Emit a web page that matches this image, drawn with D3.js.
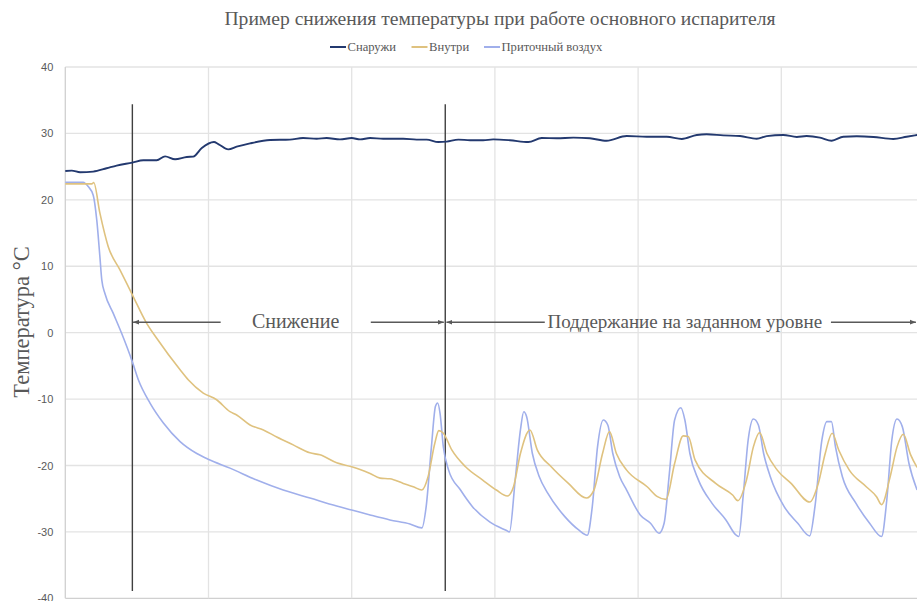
<!DOCTYPE html>
<html>
<head>
<meta charset="utf-8">
<script src="https://cdn.jsdelivr.net/npm/d3@7"></script>
<style>
  body { margin: 0; background: #fff; }
  svg { display: block; }
</style>
</head>
<body>
<svg id="chart" width="917" height="601"></svg>
<script>
// time in minutes (gridline every 60), temperature in °C
var outsideTime = [0, 2.7, 6.2, 11.7, 17.3, 21.5, 28.1, 32.7, 38.3, 41.8, 46.0, 50.9, 53.6, 57.2, 62.3, 64.1, 68.3, 71.8, 77.4, 85.8,
  94.1, 99.6, 105.3, 109.5, 115.1, 120.0, 123.5, 127.7, 133.2, 141.6, 147.2, 151.4, 156.3, 159.8, 164.7, 169.6, 175.1, 179.3, 186.3,
  194.0, 199.6, 205.9, 212.9, 219.8, 226.8, 235.2, 243.6, 252.0, 258.3, 264.6, 268.7, 275.7, 282.7, 289.7, 293.9, 300.8, 306.5,
  310.6, 316.2, 321.1, 326.0, 331.6, 338.6, 346.9, 352.5, 356.9];
var outsideTemp = [24.35, 24.4, 24.15, 24.25, 24.75, 25.15, 25.6, 25.95, 25.95, 26.55, 26.1, 26.45, 26.5, 27.8, 28.7, 28.4, 27.6, 28.0, 28.5, 29.0,
  29.07, 29.3, 29.2, 29.3, 29.1, 29.3, 29.1, 29.3, 29.2, 29.2, 29.07, 29.07, 28.7, 28.77, 29.07, 28.97, 28.97, 29.1, 28.97,
  28.7, 29.3, 29.27, 29.37, 29.27, 28.9, 29.6, 29.5, 29.5, 29.17, 29.77, 29.87, 29.7, 29.6, 29.2, 29.6, 29.77, 29.47,
  29.6, 29.37, 28.9, 29.5, 29.57, 29.47, 29.17, 29.5, 29.77];

var insideTime = [0, 11.1, 11.9, 14.5, 18.0, 22.9, 28.1, 34.1, 38.3, 48.1, 51.5, 57.8, 63.4, 69.0, 71.8, 77.4, 83.0, 88.6, 95.5,
  102.5, 106.7, 113.7, 120.0, 123.5, 127.7, 131.9, 136.0, 141.6, 145.8, 149.4, 152.0, 154.8, 156.5, 158.4, 162.0, 167.7, 174.9,
  180.6, 185.2, 187.8, 190.7, 194.7, 197.8, 203.6, 210.8, 218.3, 221.5, 225.1, 228.0, 230.9, 235.2, 243.8, 248.1, 251.7, 255.3,
  258.9, 261.0, 263.9, 272.5, 279.6, 281.8, 285.4, 288.3, 290.9, 294.0, 298.3, 304.1, 311.9, 315.5, 318.4, 321.3, 324.1, 328.5,
  335.6, 339.9, 342.0, 345.6, 348.5, 351.1, 354.2, 356.9];
var insideTemp = [22.4, 22.4, 22.6, 18.0, 12.95, 9.45, 5.7, 1.4, -0.85, -5.6, -7.1, -9.1, -10.1, -11.9, -12.4, -13.9, -14.65, -15.7, -16.9,
  -18.1, -18.4, -19.6, -20.2, -20.6, -21.2, -21.9, -22.0, -22.7, -23.2, -23.7, -21.7, -16.7, -14.75, -15.15, -17.7, -20.2, -22.2,
  -23.7, -24.6, -23.2, -18.2, -14.65, -17.7, -20.2, -22.7, -24.9, -23.7, -18.2, -14.9, -18.2, -20.7, -23.2, -24.7, -25.1, -19.7,
  -15.55, -15.65, -19.2, -22.7, -24.45, -25.3, -22.2, -17.2, -15.06, -18.2, -20.7, -22.7, -25.5, -22.7, -18.2, -15.15, -17.7, -20.7,
  -23.2, -24.7, -25.9, -21.7, -17.2, -15.3, -18.4, -20.3];

var supplyTime = [0, 7.5, 9.6, 11.7, 13.2, 14.5, 15.3, 16.6, 20.1, 23.6, 28.1, 30.6, 35.5, 41.1, 48.1, 55.1, 60.1, 69.0, 80.2,
  91.3, 102.5, 113.7, 120.0, 127.7, 136.0, 144.4, 149.4, 151.2, 153.4, 155.1, 156.0, 157.0, 158.4, 160.6, 165.6, 170.6, 177.8,
  184.9, 186.1, 188.5, 190.7, 192.1, 193.3, 195.7, 198.6, 202.2, 209.3, 215.1, 218.7, 220.8, 223.0, 225.4, 227.3, 229.4, 232.3,
  235.2, 240.9, 245.2, 248.8, 250.9, 253.1, 255.3, 257.9, 259.6, 261.7, 265.3, 271.0, 276.8, 281.1, 282.2, 284.0, 286.1, 288.3,
  290.4, 292.6, 295.4, 301.2, 306.9, 311.9, 314.1, 317.0, 319.1, 321.0, 322.7, 325.6, 331.3, 337.0, 342.0, 344.2, 346.3, 348.5,
  350.7, 353.5, 356.9];
var supplyTemp = [22.65, 22.65, 22.0, 20.7, 16.9, 11.4, 7.9, 5.9, 2.9, -0.1, -4.4, -7.1, -10.6, -13.6, -16.4, -18.2, -19.1, -20.4, -22.2,
  -23.7, -24.9, -26.1, -26.7, -27.45, -28.2, -28.8, -29.4, -26.2, -17.2, -11.1, -10.6, -12.1, -17.2, -20.7, -23.7, -26.2, -28.5,
  -29.8, -30.0, -22.2, -14.65, -11.9, -12.65, -18.2, -21.7, -24.2, -27.7, -29.7, -30.5, -26.2, -17.2, -13.15, -13.9, -18.2, -21.7,
  -23.7, -27.45, -28.7, -30.2, -28.7, -21.2, -13.15, -11.3, -13.15, -18.2, -22.2, -25.7, -28.2, -30.5, -30.7, -24.7, -16.2, -13.0,
  -13.9, -18.2, -21.7, -26.2, -28.7, -30.6, -26.2, -16.2, -13.4, -13.4, -17.2, -21.7, -25.7, -28.7, -30.7, -25.2, -16.2, -13.0,
  -14.15, -19.7, -23.7];

var seriesNames = ["Снаружи", "Внутри", "Приточный воздух"];
var seriesColors = ["#23396f", "#dfc27f", "#a0afeb"];
var yTicks = [-40, -30, -20, -10, 0, 10, 20, 30, 40];
var xGrid = [60, 120, 180, 240, 300, 360];

// phase markers and annotation arrows
var phaseMarks = [28.1, 159.2];
var phaseTop = 34.4, phaseBottom = -38.9;
var arrowLevel = 1.57;
var arrows = [[65.1, 28.4], [128.0, 158.6], [200.9, 159.7], [320.8, 356.4]];
var phaseLabels = ["Снижение", "Поддержание на заданном уровне"];

var svg = d3.select("#chart");
var grey = "#595959";
var serif = "'Liberation Serif', 'Times New Roman', serif";

var x = d3.scaleLinear().domain([0, 360]).range([65.3, 924.5]);
var y = d3.scaleLinear().domain([-40, 40]).range([598.3, 67]);

svg.append("rect").attr("width", 917).attr("height", 601).attr("fill", "#fff");

// grid
svg.append("g").selectAll("line").data(yTicks).enter().append("line")
  .attr("x1", x(0)).attr("x2", 917)
  .attr("y1", function (d) { return y(d); }).attr("y2", function (d) { return y(d); })
  .attr("stroke", function (d) { return d === -40 ? "#d0d0d0" : "#e3e3e3"; })
  .attr("stroke-width", 1.3);
svg.append("g").selectAll("line").data(xGrid).enter().append("line")
  .attr("x1", function (d) { return x(d); }).attr("x2", function (d) { return x(d); })
  .attr("y1", y(40)).attr("y2", y(-40))
  .attr("stroke", "#e3e3e3").attr("stroke-width", 1.3);
svg.append("line")
  .attr("x1", x(0)).attr("x2", x(0)).attr("y1", y(40)).attr("y2", y(-40))
  .attr("stroke", "#d0d0d0").attr("stroke-width", 1.3);

// y axis labels
var yAxis = d3.axisLeft(y).tickValues(yTicks).tickSize(0).tickPadding(12)
  .tickFormat(function (d) { return String(d); });
var ga = svg.append("g").attr("transform", "translate(" + x(0) + ",0)").call(yAxis);
ga.select(".domain").remove();
ga.selectAll("text")
  .attr("fill", grey)
  .style("font-family", "'Liberation Sans', Arial, sans-serif")
  .style("font-size", "11px");

svg.append("text")
  .attr("transform", "translate(29," + 322 + ") rotate(-90)")
  .attr("text-anchor", "middle")
  .attr("fill", grey)
  .style("font-family", serif)
  .style("font-size", "22.5px")
  .text("Температура °C");

// phase markers
svg.append("g").selectAll("line").data(phaseMarks).enter().append("line")
  .attr("x1", function (d) { return x(d); }).attr("x2", function (d) { return x(d); })
  .attr("y1", y(phaseTop)).attr("y2", y(phaseBottom))
  .attr("stroke", "#404040").attr("stroke-width", 1.4);

// data lines
var series = [
  d3.zip(outsideTime, outsideTemp),
  d3.zip(insideTime, insideTemp),
  d3.zip(supplyTime, supplyTemp)
];
var line = d3.line()
  .x(function (d) { return x(d[0]); })
  .y(function (d) { return y(d[1]); })
  .curve(d3.curveMonotoneX);
var widths = [1.9, 1.6, 1.6];
// supply first, outside on top
[2, 1, 0].forEach(function (i) {
  svg.append("path")
    .datum(series[i])
    .attr("fill", "none")
    .attr("stroke", seriesColors[i])
    .attr("stroke-width", widths[i])
    .attr("stroke-linejoin", "round")
    .attr("d", line);
});

// arrows
var defs = svg.append("defs");
defs.append("marker")
  .attr("id", "head")
  .attr("viewBox", "0 0 10 10")
  .attr("refX", 10).attr("refY", 5)
  .attr("markerWidth", 6).attr("markerHeight", 6)
  .attr("markerUnits", "userSpaceOnUse")
  .attr("orient", "auto")
  .append("path").attr("d", "M0,1L10,5L0,9Z").attr("fill", "#595959");
svg.append("g").selectAll("line").data(arrows).enter().append("line")
  .attr("x1", function (d) { return x(d[0]); }).attr("x2", function (d) { return x(d[1]); })
  .attr("y1", y(arrowLevel)).attr("y2", y(arrowLevel))
  .attr("stroke", "#595959").attr("stroke-width", 1.4)
  .attr("marker-end", "url(#head)");

svg.append("text")
  .attr("x", x(96.5)).attr("y", y(arrowLevel) + 6)
  .attr("text-anchor", "middle")
  .attr("fill", grey)
  .style("font-family", serif)
  .style("font-size", "20px")
  .text(phaseLabels[0]);
svg.append("text")
  .attr("x", x(202.0)).attr("y", y(arrowLevel) + 6)
  .attr("fill", grey)
  .style("font-family", serif)
  .style("font-size", "19px")
  .text(phaseLabels[1]);

// title
svg.append("text")
  .attr("x", 500).attr("y", 25)
  .attr("text-anchor", "middle")
  .attr("fill", grey)
  .style("font-family", serif)
  .style("font-size", "19.6px")
  .text("Пример снижения температуры при работе основного испарителя");

// legend
var legendX = [330, 411.5, 484];
var lg = svg.append("g").selectAll("g").data(seriesNames).enter().append("g")
  .attr("transform", function (d, i) { return "translate(" + legendX[i] + ",47)"; });
lg.append("line")
  .attr("x1", 0).attr("x2", 16).attr("y1", 0).attr("y2", 0)
  .attr("stroke", function (d, i) { return seriesColors[i]; })
  .attr("stroke-width", 2);
lg.append("text")
  .attr("x", 17.5).attr("y", 4.3)
  .attr("fill", grey)
  .style("font-family", serif)
  .style("font-size", "12.6px")
  .text(function (d) { return d; });
</script>
</body>
</html>
